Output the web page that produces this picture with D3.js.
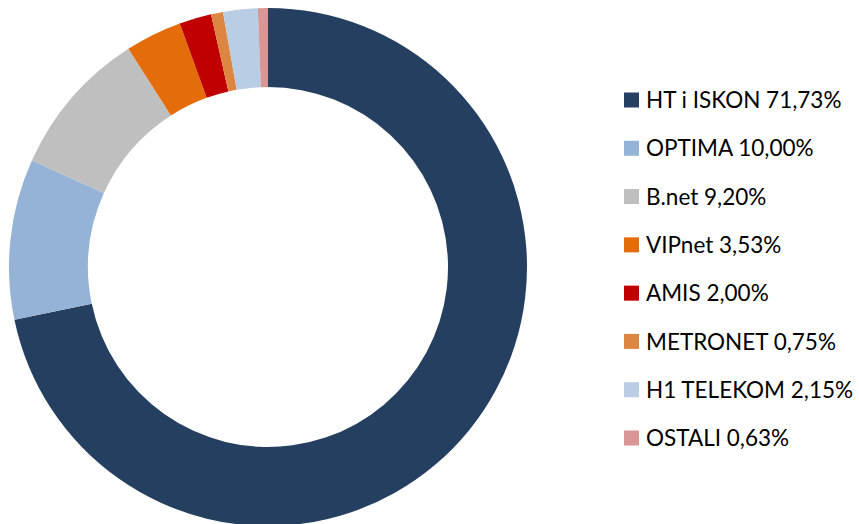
<!DOCTYPE html>
<html>
<head>
<meta charset="utf-8">
<script src="https://cdn.jsdelivr.net/npm/d3@7"></script>
<style>
  body { margin: 0; background: #fff; }
  svg { display: block; }
</style>
</head>
<body>
<svg width="859" height="524"></svg>
<script>
let names = ["HT i ISKON", "OPTIMA", "B.net", "VIPnet", "AMIS", "METRONET", "H1 TELEKOM", "OSTALI"];
let shares = [71.73, 10.0, 9.2, 3.53, 2.0, 0.75, 2.15, 0.63];
let labels = ["71,73%", "10,00%", "9,20%", "3,53%", "2,00%", "0,75%", "2,15%", "0,63%"];
let colors = ["#243f60", "#95b3d7", "#bfbfbf", "#e46c0a", "#c00000", "#dd8641", "#b9cde5", "#d99694"];

let svg = d3.select("svg");

let slices = names.map(function(n, i) {
  return { name: n, value: shares[i], label: labels[i], color: colors[i] };
});

let pie = d3.pie().sort(null).value(function(d) { return d.value; });
let arc = d3.arc().innerRadius(180).outerRadius(259);

svg.append("g")
  .attr("transform", "translate(268, 267)")
  .selectAll("path")
  .data(pie(slices))
  .enter()
  .append("path")
  .attr("d", arc)
  .style("fill", function(d) { return d.data.color; });

// legend
let yLegend = d3.scalePoint()
  .domain(names)
  .range([100, 438]);

let legend = svg.append("g")
  .selectAll("g")
  .data(slices)
  .enter()
  .append("g")
  .attr("transform", function(d) { return "translate(624, " + yLegend(d.name) + ")"; });

legend.append("rect")
  .attr("x", 0)
  .attr("y", -7.5)
  .attr("width", 15)
  .attr("height", 15)
  .style("fill", function(d) { return d.color; });

legend.append("text")
  .attr("x", 22)
  .attr("y", 0)
  .attr("dy", "0.36em")
  .style("font-family", "Lato, 'Open Sans', sans-serif")
  .style("font-size", "22.5px")
  .style("fill", "#000")
  .text(function(d) { return d.name + " " + d.label; });
</script>
</body>
</html>
